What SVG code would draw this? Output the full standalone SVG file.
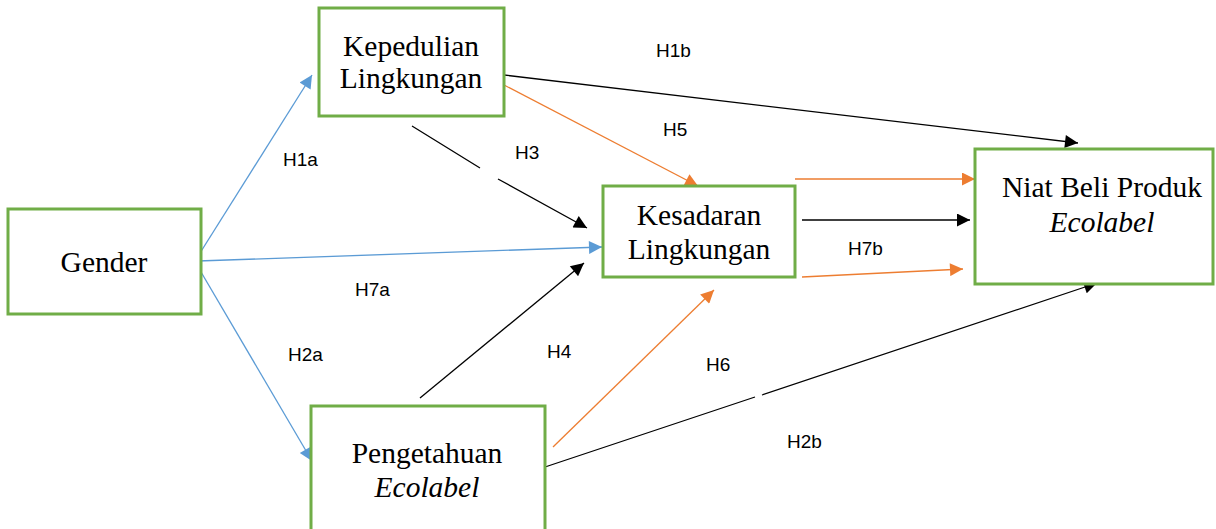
<svg xmlns="http://www.w3.org/2000/svg" width="1216" height="529" viewBox="0 0 1216 529">
<style>
.box{fill:#fff;stroke:#70AD47;stroke-width:3}
.t{font-family:"Liberation Serif","Times New Roman",serif;font-size:29.5px;fill:#000;text-anchor:middle}
.i{font-style:italic}
.lb{font-family:"Liberation Sans",Arial,sans-serif;font-size:19px;fill:#000}
.c{fill:none;stroke-width:1.3}
.blue{stroke:#5B9BD5}
.blk{stroke:#000}
.org{stroke:#ED7D31}
</style>
<defs>
<marker id="ab" viewBox="0 0 10 10" refX="10" refY="5" markerUnits="userSpaceOnUse" markerWidth="15" markerHeight="13" orient="auto"><path d="M0,0L10,5L0,10z" fill="#5B9BD5"/></marker>
<marker id="ak" viewBox="0 0 10 10" refX="10" refY="5" markerUnits="userSpaceOnUse" markerWidth="15" markerHeight="13" orient="auto"><path d="M0,0L10,5L0,10z" fill="#000"/></marker>
<marker id="ao" viewBox="0 0 10 10" refX="10" refY="5" markerUnits="userSpaceOnUse" markerWidth="15" markerHeight="13" orient="auto"><path d="M0,0L10,5L0,10z" fill="#ED7D31"/></marker>
</defs>
<rect width="1216" height="529" fill="#fff"/>
<g id="connectors">
<line class="c blue" x1="200" y1="253" x2="312" y2="75" marker-end="url(#ab)"/>
<line class="c blue" x1="198" y1="261" x2="602" y2="247" marker-end="url(#ab)"/>
<line class="c blue" x1="201" y1="272" x2="312" y2="461" marker-end="url(#ab)"/>
<line class="c blk" x1="504" y1="75" x2="1078" y2="143" marker-end="url(#ak)"/>
<path class="c blk" d="M412,126L480,168M498,179L587,228" marker-end="url(#ak)"/>
<line class="c blk" x1="802" y1="220" x2="970" y2="220" marker-end="url(#ak)"/>
<line class="c blk" x1="420" y1="398" x2="584" y2="263" marker-end="url(#ak)"/>
<path class="c blk" d="M545,467L755,397M762,395L1097,283" marker-end="url(#ak)"/>
<line class="c org" x1="504" y1="85" x2="698" y2="186" marker-end="url(#ao)"/>
<line class="c org" x1="795" y1="179" x2="975" y2="179" marker-end="url(#ao)"/>
<line class="c org" x1="802" y1="277" x2="963" y2="269" marker-end="url(#ao)"/>
<line class="c org" x1="553" y1="447" x2="714" y2="290" marker-end="url(#ao)"/>
</g>
<g id="labels">
<text class="lb" x="656" y="57">H1b</text>
<text class="lb" x="663" y="136">H5</text>
<text class="lb" x="515" y="159">H3</text>
<text class="lb" x="283" y="166">H1a</text>
<text class="lb" x="848" y="255">H7b</text>
<text class="lb" x="355" y="296">H7a</text>
<text class="lb" x="288" y="361">H2a</text>
<text class="lb" x="547" y="358">H4</text>
<text class="lb" x="706" y="371">H6</text>
<text class="lb" x="787" y="448">H2b</text>
</g>
<g id="kepedulian">
<rect class="box" x="319" y="8" width="185" height="108"/>
<text class="t" x="411" y="56">Kepedulian</text>
<text class="t" x="411" y="88">Lingkungan</text>
</g>
<g id="gender">
<rect class="box" x="8" y="209" width="193" height="105"/>
<text class="t" x="104" y="272">Gender</text>
</g>
<g id="kesadaran">
<rect class="box" x="603" y="186" width="192" height="91"/>
<text class="t" x="699" y="225">Kesadaran</text>
<text class="t" x="699" y="259">Lingkungan</text>
</g>
<g id="niat">
<rect class="box" x="975" y="149" width="238" height="135"/>
<text class="t" x="1102" y="197">Niat Beli Produk</text>
<text class="t i" x="1102" y="232">Ecolabel</text>
</g>
<g id="pengetahuan">
<rect class="box" x="311" y="406" width="234" height="140"/>
<text class="t" x="427" y="463">Pengetahuan</text>
<text class="t i" x="427" y="497">Ecolabel</text>
</g>
</svg>
